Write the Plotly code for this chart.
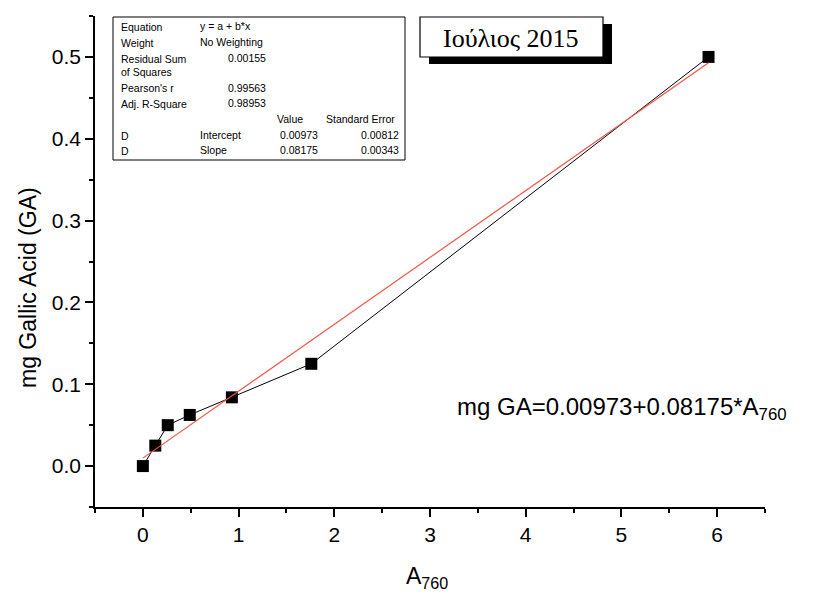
import plotly.graph_objects as go

# Calibration data: absorbance at 760 nm vs. mg of gallic acid
a760 = [0.0, 0.13, 0.26, 0.49, 0.93, 1.76, 5.91]
mg_ga = [0.0, 0.025, 0.05, 0.0625, 0.084, 0.125, 0.5]

# Linear fit results
intercept = 0.00973
slope = 0.08175
intercept_err = 0.00812
slope_err = 0.00343
rss = 0.00155
pearson_r = 0.99563
adj_r2 = 0.98953

W, H = 817, 597
L, R, T, B = 95, 52, 16, 90
PW, PH = W - L - R, H - T - B

def px(x):
    return (x - L) / PW

def py(y):
    return (H - B - y) / PH

SANS = "Liberation Sans, Arial, sans-serif"
SERIF = "Liberation Serif, Times New Roman, serif"

fit_x = [min(a760), max(a760)]
fit_y = [intercept + slope * v for v in fit_x]

fig = go.Figure()
fig.add_trace(go.Scatter(
    x=a760, y=mg_ga, mode="lines+markers",
    line=dict(color="black", width=1),
    marker=dict(symbol="square", size=12, color="black"),
    showlegend=False, hoverinfo="skip",
))
fig.add_trace(go.Scatter(
    x=fit_x, y=fit_y, mode="lines",
    line=dict(color="rgb(240,85,70)", width=1.2),
    showlegend=False, hoverinfo="skip",
))

axis_common = dict(
    showline=True, linecolor="black", linewidth=1.5,
    ticks="outside", ticklen=8, tickwidth=1.5, tickcolor="black",
    showgrid=False, zeroline=False,
    tickfont=dict(family=SANS, size=21, color="black"),
)
fig.update_xaxes(range=[-0.5, 6.5], tick0=0, dtick=1,
                 minor=dict(ticks="outside", ticklen=4, tickwidth=1.5,
                            tickcolor="black", dtick=0.5, showgrid=False),
                 **axis_common)
fig.update_yaxes(range=[-0.05, 0.55], tick0=0, dtick=0.1, tickformat=".1f",
                 minor=dict(ticks="outside", ticklen=4, tickwidth=1.5,
                            tickcolor="black", dtick=0.05, showgrid=False),
                 **axis_common)

shapes = []
annotations = []

# Axis titles
annotations.append(dict(
    x=px(28), y=py(288), xref="paper", yref="paper", text="mg Gallic Acid (GA)",
    textangle=-90, showarrow=False, xanchor="center", yanchor="middle",
    font=dict(family=SANS, size=23, color="black")))
annotations.append(dict(
    x=px(427), y=py(577), xref="paper", yref="paper", text="A<sub>760</sub>",
    showarrow=False, xanchor="center", yanchor="middle",
    font=dict(family=SANS, size=23, color="black")))

# Fit equation
annotations.append(dict(
    x=px(455), y=py(408), xref="paper", yref="paper",
    text=f"mg GA={intercept:.5f}+{slope:.5f}*A<sub>760</sub>",
    showarrow=False, xanchor="left", yanchor="middle",
    font=dict(family=SANS, size=24, color="black")))

# Title box with drop shadow
shapes.append(dict(type="rect", xref="paper", yref="paper",
                   x0=px(429), x1=px(612), y0=py(24), y1=py(64),
                   fillcolor="black", line=dict(width=0), layer="above"))
shapes.append(dict(type="rect", xref="paper", yref="paper",
                   x0=px(420), x1=px(603), y0=py(17), y1=py(57),
                   fillcolor="white", line=dict(color="black", width=1.2),
                   layer="above"))
annotations.append(dict(
    x=px(511), y=py(38), xref="paper", yref="paper", text="Ιούλιος 2015",
    showarrow=False, xanchor="center", yanchor="middle",
    font=dict(family=SERIF, size=26, color="black")))

# Fit statistics table
shapes.append(dict(type="rect", xref="paper", yref="paper",
                   x0=px(113), x1=px(405), y0=py(17), y1=py(160),
                   fillcolor="white", line=dict(color="black", width=1),
                   layer="above"))

def cell(x, y, text, anchor="left"):
    annotations.append(dict(
        x=px(x), y=py(y), xref="paper", yref="paper", text=text,
        showarrow=False, xanchor=anchor, yanchor="middle",
        font=dict(family=SANS, size=10.5, color="black")))

c1, c2 = 119, 198
cell(c1, 27, "Equation"); cell(c2, 26, "y = a + b*x")
cell(c1, 43, "Weight"); cell(c2, 42, "No Weighting")
cell(c1, 59, "Residual Sum"); cell(c1, 72, "of Squares")
cell(268, 58, f"{rss:.5f}", "right")
cell(c1, 88, "Pearson's r"); cell(268, 88, f"{pearson_r:.5f}", "right")
cell(c1, 104, "Adj. R-Square"); cell(268, 103, f"{adj_r2:.5f}", "right")
cell(290, 119, "Value", "center"); cell(397, 119, "Standard Error", "right")
cell(c1, 136, "D"); cell(c2, 135, "Intercept")
cell(320, 135, f"{intercept:.5f}", "right"); cell(401, 135, f"{intercept_err:.5f}", "right")
cell(c1, 151, "D"); cell(c2, 150, "Slope")
cell(320, 150, f"{slope:.5f}", "right"); cell(401, 150, f"{slope_err:.5f}", "right")

fig.update_layout(
    width=W, height=H,
    margin=dict(l=L, r=R, t=T, b=B),
    paper_bgcolor="white", plot_bgcolor="white",
    shapes=shapes, annotations=annotations,
    showlegend=False,
)

fig.write_html("out.html")
